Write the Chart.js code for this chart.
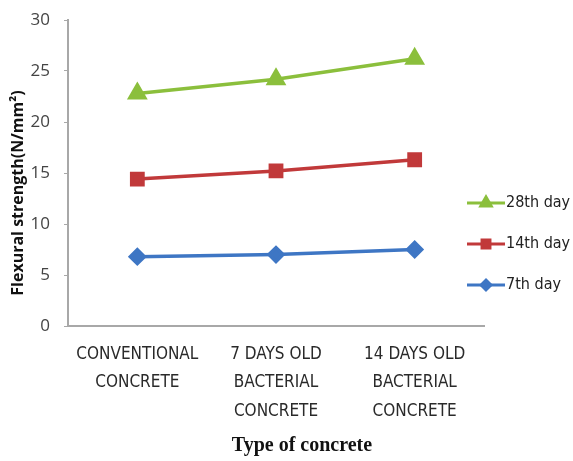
<!DOCTYPE html>
<html>
<head>
<meta charset="utf-8">
<script src="https://cdn.jsdelivr.net/npm/chart.js@4/dist/chart.umd.min.js"></script>
<style>
  html, body { margin: 0; padding: 0; background: #fff; }
  #wrap { width: 573px; height: 461px; position: relative; }
</style>
</head>
<body>
<div id="wrap"><canvas id="c" width="573" height="461"></canvas></div>
<script>
// Concrete types (x axis categories)
const categories = [
  ['CONVENTIONAL', 'CONCRETE'],
  ['7 DAYS OLD', 'BACTERIAL', 'CONCRETE'],
  ['14 DAYS OLD', 'BACTERIAL', 'CONCRETE']
];

// Flexural strength (N/mm²) by curing age
const day7 = [6.8, 7.0, 7.5];
const day14 = [14.4, 15.2, 16.3];
const day28 = [22.8, 24.2, 26.2];

const yTicks = [0, 5, 10, 15, 20, 25, 30];

const narrow = '"DejaVu Sans Condensed", "Liberation Sans Narrow", "Arial Narrow", "Liberation Sans", sans-serif';
const xTitle = 'Type of concrete';
const yTitle = 'Flexural strength(N/mm²)';

// Legend drawn to the right: a short line with its marker, then the label.
// Also draws both axis titles.
const sideLegend = {
  id: 'sideLegend',
  afterDraw(chart) {
    const ctx = chart.ctx;
    const area = chart.chartArea;
    const items = chart.data.datasets.slice().reverse();
    const x0 = area.right - 17;
    const y0 = area.top + 183;
    const gap = 41;
    items.forEach((ds, i) => {
      const y = y0 + i * gap;
      ctx.save();
      ctx.strokeStyle = ds.borderColor;
      ctx.lineWidth = 3;
      ctx.beginPath();
      ctx.moveTo(x0, y);
      ctx.lineTo(x0 + 38, y);
      ctx.stroke();
      ctx.fillStyle = ds.backgroundColor;
      ctx.strokeStyle = ds.borderColor;
      Chart.helpers.drawPoint(ctx, {
        pointStyle: ds.pointStyle,
        radius: ds.pointRadius * 0.7,
        rotation: 0,
        borderWidth: 1
      }, x0 + 19, y);
      ctx.fillStyle = '#222';
      ctx.font = '16px ' + narrow;
      ctx.textAlign = 'left';
      ctx.textBaseline = 'middle';
      ctx.fillText(ds.label, x0 + 39, y);
      ctx.restore();
    });

    ctx.save();
    ctx.fillStyle = '#111';
    ctx.font = 'bold 20px "Liberation Serif", "Times New Roman", serif';
    ctx.textAlign = 'center';
    ctx.textBaseline = 'middle';
    ctx.fillText(xTitle, (area.left + area.right) / 2 + 26, area.bottom + 120);
    ctx.restore();

    ctx.save();
    ctx.translate(area.left - 50, (area.top + area.bottom) / 2 + 20);
    ctx.rotate(-Math.PI / 2);
    ctx.fillStyle = '#111';
    ctx.font = 'bold 16px "Open Sans", sans-serif';
    ctx.textAlign = 'center';
    ctx.textBaseline = 'middle';
    ctx.fillText(yTitle, 0, 0);
    ctx.restore();
  }
};

new Chart(document.getElementById('c'), {
  type: 'line',
  data: {
    labels: categories,
    datasets: [
      {
        label: '7th day', data: day7,
        borderColor: '#3E76C4', backgroundColor: '#3E76C4',
        pointStyle: 'rectRot', pointRadius: 7, pointHoverRadius: 7,
        borderWidth: 3.5
      },
      {
        label: '14th day', data: day14,
        borderColor: '#C1393A', backgroundColor: '#C1393A',
        pointStyle: 'rect', pointRadius: 8, pointHoverRadius: 8,
        borderWidth: 3.5
      },
      {
        label: '28th day', data: day28,
        borderColor: '#8BBF3C', backgroundColor: '#8BBF3C',
        pointStyle: 'triangle', pointRadius: 8.5, pointHoverRadius: 8.5,
        borderWidth: 3.5
      }
    ]
  },
  options: {
    responsive: false,
    animation: false,
    events: [],
    layout: { padding: { left: 4, right: 89, top: 20, bottom: 0 } },
    plugins: {
      legend: { display: false },
      tooltip: { enabled: false }
    },
    scales: {
      x: {
        offset: true,
        afterFit(scale) { scale.height = 135; },
        grid: { display: false, drawTicks: false },
        border: { display: true, color: '#a8a8a8', width: 2 },
        ticks: {
          color: '#2a2a2a',
          font: { family: narrow, size: 17, lineHeight: 1.68 },
          padding: 14,
          maxRotation: 0,
          autoSkip: false
        }
      },
      y: {
        min: 0, max: 30,
        afterBuildTicks(scale) { scale.ticks = yTicks.map(v => ({ value: v })); },
        afterFit(scale) {
          scale.width = 64;
          scale.paddingTop = 0;
          scale.paddingBottom = 0;
        },
        grid: { display: true, drawOnChartArea: false, drawTicks: true, tickLength: 4, color: '#a8a8a8' },
        border: { display: true, color: '#a8a8a8', width: 2 },
        ticks: {
          color: '#444',
          font: { family: '"Open Sans", sans-serif', size: 17 },
          padding: 14
        }
      }
    }
  },
  plugins: [sideLegend]
});
</script>
</body>
</html>
